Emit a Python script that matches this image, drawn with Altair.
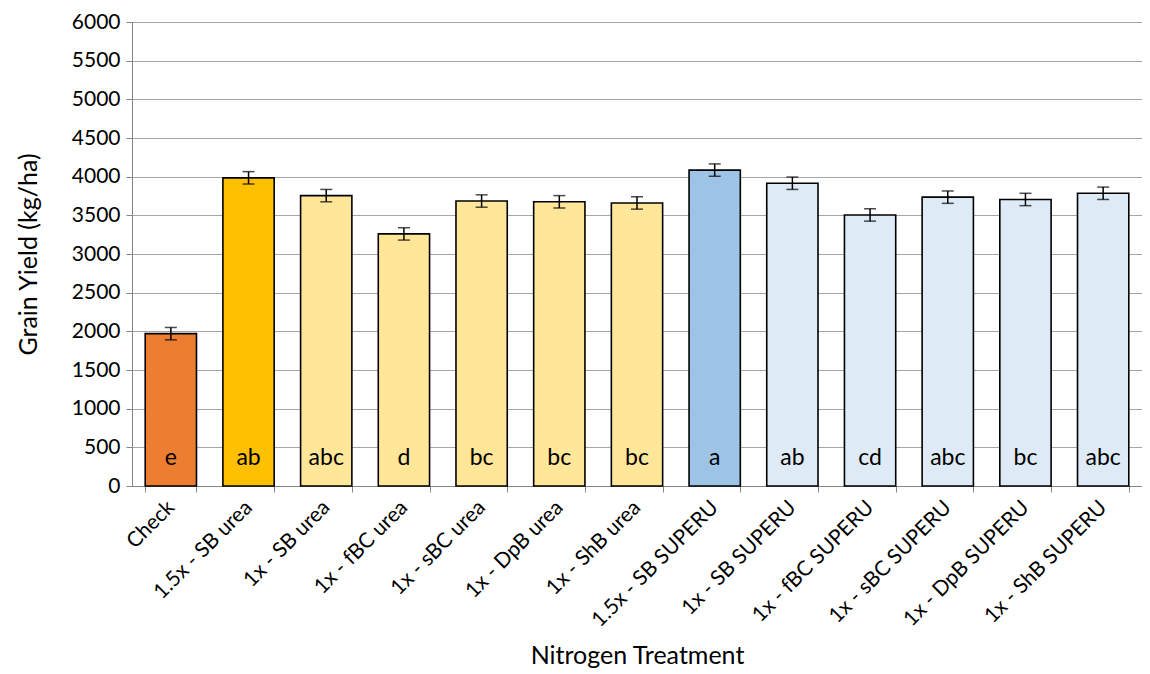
import altair as alt
import pandas as pd

treatments = ["Check", "1.5x - SB urea", "1x - SB urea", "1x - fBC urea", "1x - sBC urea",
              "1x - DpB urea", "1x - ShB urea", "1.5x - SB SUPERU", "1x - SB SUPERU",
              "1x - fBC  SUPERU", "1x - sBC  SUPERU", "1x - DpB SUPERU", "1x - ShB SUPERU"]
yields = [1970, 3985, 3755, 3260, 3685, 3675, 3660, 4085, 3915, 3505, 3735, 3705, 3785]
errors = [80, 80, 80, 80, 80, 80, 80, 80, 80, 80, 80, 80, 80]
letters = ["e", "ab", "abc", "d", "bc", "bc", "bc", "a", "ab", "cd", "abc", "bc", "abc"]
colors = ["#ED7D31", "#FFC000", "#FFE699", "#FFE699", "#FFE699", "#FFE699", "#FFE699",
          "#9DC3E6", "#DEEBF7", "#DEEBF7", "#DEEBF7", "#DEEBF7", "#DEEBF7"]
y_ticks = list(range(0, 6001, 500))

df = pd.DataFrame({
    "t": treatments,
    "y": yields,
    "lo": [v - e for v, e in zip(yields, errors)],
    "hi": [v + e for v, e in zip(yields, errors)],
    "lab": letters,
    "col": colors,
    "ly": [360] * len(treatments),
})

FONT = "Lato"

xaxis = alt.Axis(title="Nitrogen Treatment", labelAngle=-45, labelAlign="right",
                 labelBaseline="middle", labelFontSize=21, labelFont=FONT,
                 labelColor="#000000", labelPadding=12, tickBand="extent",
                 titleFontSize=25, titleFont=FONT, titleFontWeight="normal",
                 titleColor="#000000", titlePadding=13, domainColor="#868686",
                 tickColor="#868686", tickSize=6, grid=False, labelLimit=300,
                 labelOverlap=False)
xscale = alt.Scale(paddingInner=0.34, paddingOuter=0.17)

yaxis = alt.Axis(title="Grain Yield (kg/ha)", values=y_ticks, format="d",
                 labelOverlap=False, labelFlush=False,
                 labelFontSize=21, labelFont=FONT, labelColor="#000000",
                 titleFontSize=25, titleFont=FONT, titleFontWeight="normal",
                 titleColor="#000000", titlePadding=30,
                 gridColor="#A6A6A6", gridWidth=1.2, domainColor="#868686",
                 tickColor="#868686", tickSize=6, labelPadding=6)
y_scale = alt.Scale(domain=[0, 6000], nice=False)


def X():
    return alt.X("t:N", sort=treatments, scale=xscale, axis=xaxis)


def Y(field):
    return alt.Y(field, type="quantitative", scale=y_scale, axis=yaxis)


bars = alt.Chart(df).mark_bar(stroke="#000000", strokeWidth=1.6).encode(
    x=X(), y=Y("y"), color=alt.Color("col:N", scale=None))

rules = alt.Chart(df).mark_rule(color="#000000", strokeWidth=1.5).encode(
    x=X(), y=Y("lo"), y2="hi:Q")
caps_lo = alt.Chart(df).mark_tick(color="#000000", size=12, thickness=1.5, orient="horizontal").encode(
    x=X(), y=Y("lo"))
caps_hi = alt.Chart(df).mark_tick(color="#000000", size=12, thickness=1.5, orient="horizontal").encode(
    x=X(), y=Y("hi"))
text = alt.Chart(df).mark_text(font=FONT, fontSize=23, color="#000000", baseline="middle").encode(
    x=X(), y=Y("ly"), text="lab:N")

chart = alt.layer(bars, rules, caps_lo, caps_hi, text).properties(
    width=1010, height=464,
    autosize=alt.AutoSizeParams(type="none"),
    padding={"left": 124, "top": 14, "right": 0, "bottom": 190},
).configure_view(stroke=None).configure(background="#FFFFFF")

chart.save("out.html", embed_options={"renderer": "svg", "actions": False})
